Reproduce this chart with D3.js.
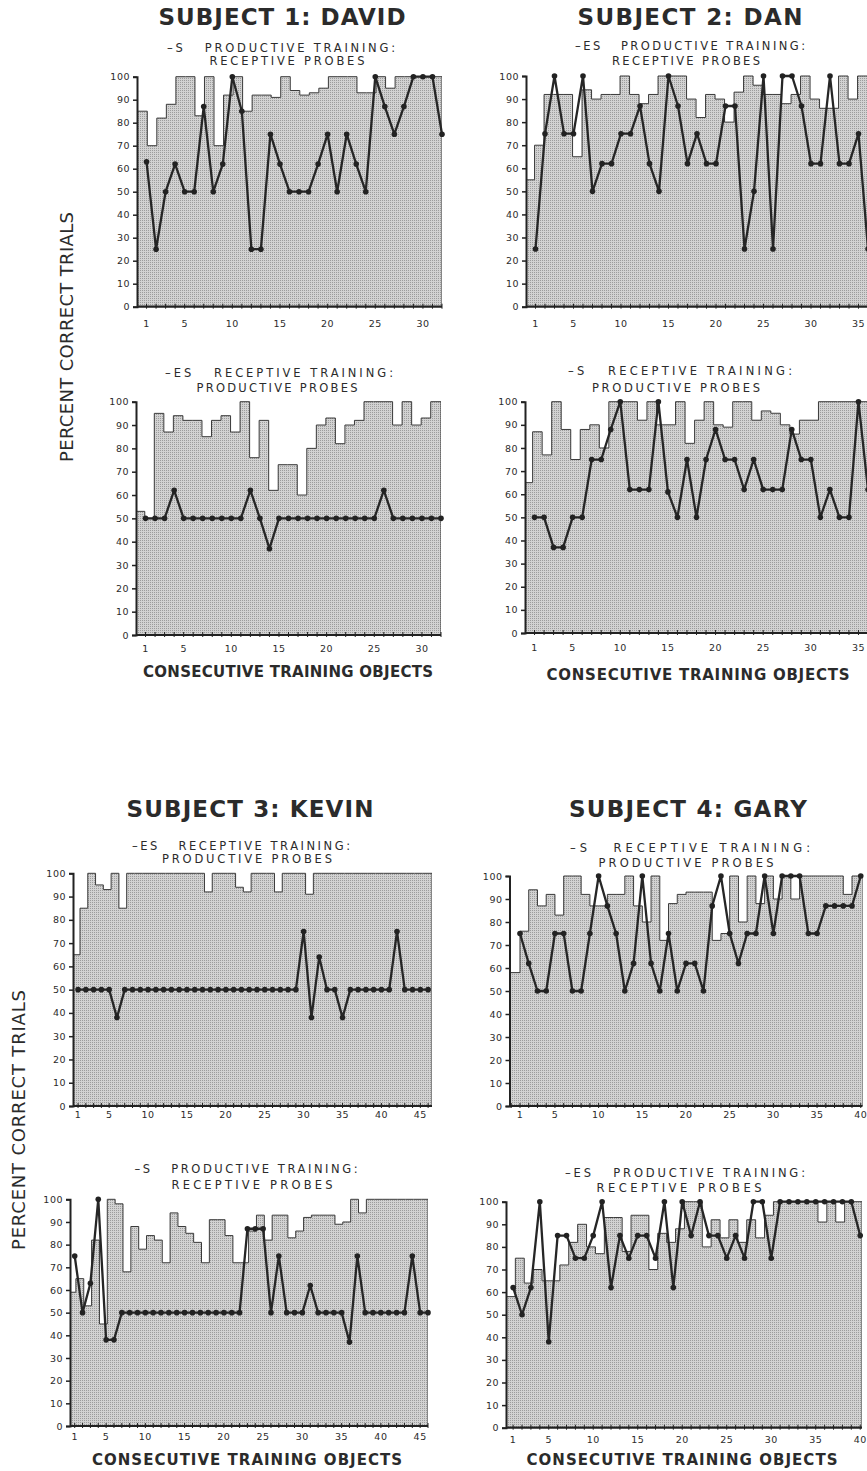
<!DOCTYPE html>
<html>
<head>
<meta charset="utf-8">
<style>
    body { margin: 0; background: #fff; }
    svg { display: block; }
    text { font-family: 'DejaVu Sans', Arial, sans-serif; fill: #2b2b2b; }
    .title { font-size: 23px; font-weight: bold; }
    .sub { font-size: 11.5px; }
    .tk { font-size: 9.5px; letter-spacing: 0.5px; }
    .xlab { font-size: 15px; font-weight: bold; }
    .ylab { font-size: 18px; }
</style>
</head>
<body>
<svg width="867" height="1471"></svg>

<script src="https://d3js.org/d3.v7.min.js"></script>
<script>
    // ---- values (percent correct) ----
    let subjectTitles = ["SUBJECT 1: DAVID", "SUBJECT 2: DAN", "SUBJECT 3: KEVIN", "SUBJECT 4: GARY"];
    let xTitle = "CONSECUTIVE TRAINING OBJECTS";
    let yTitle = "PERCENT CORRECT TRIALS";
    let yTickValues = [0, 10, 20, 30, 40, 50, 60, 70, 80, 90, 100];

    // subject 1, productive training : receptive probes
    let davidA_train = [85, 70, 82, 88, 100, 100, 83, 100, 70, 92, 100, 85, 92, 92, 91, 100, 94, 92, 93, 95, 100, 100, 100, 93, 93, 100, 95, 100, 100, 100, 100, 100];
    let davidA_probe = [63, 25, 50, 62, 50, 50, 87, 50, 62, 100, 85, 25, 25, 75, 62, 50, 50, 50, 62, 75, 50, 75, 62, 50, 100, 87, 75, 87, 100, 100, 100, 75];
    // subject 1, receptive training : productive probes
    let davidB_train = [53, 50, 95, 87, 94, 92, 92, 85, 92, 94, 87, 100, 76, 92, 62, 73, 73, 60, 80, 90, 93, 82, 90, 92, 100, 100, 100, 90, 100, 90, 93, 100];
    let davidB_probe = [50, 50, 50, 62, 50, 50, 50, 50, 50, 50, 50, 62, 50, 37, 50, 50, 50, 50, 50, 50, 50, 50, 50, 50, 50, 62, 50, 50, 50, 50, 50, 50];

    // subject 2
    let danA_train = [55, 70, 92, 92, 92, 65, 94, 90, 92, 92, 100, 92, 88, 92, 100, 100, 100, 90, 82, 92, 90, 80, 93, 100, 96, 92, 92, 88, 92, 100, 90, 86, 86, 100, 90, 100];
    let danA_probe = [25, 75, 100, 75, 75, 100, 50, 62, 62, 75, 75, 87, 62, 50, 100, 87, 62, 75, 62, 62, 87, 87, 25, 50, 100, 25, 100, 100, 87, 62, 62, 100, 62, 62, 75, 25];
    let danB_train = [65, 87, 77, 100, 88, 75, 88, 90, 80, 100, 100, 100, 92, 100, 90, 90, 100, 82, 92, 100, 90, 89, 100, 100, 92, 96, 95, 90, 86, 92, 92, 100, 100, 100, 100, 100];
    let danB_probe = [50, 50, 37, 37, 50, 50, 75, 75, 88, 100, 62, 62, 62, 100, 61, 50, 75, 50, 75, 88, 75, 75, 62, 75, 62, 62, 62, 88, 75, 75, 50, 62, 50, 50, 100, 62];

    // subject 3
    let kevinA_train = [65, 85, 100, 95, 93, 100, 85, 100, 100, 100, 100, 100, 100, 100, 100, 100, 100, 92, 100, 100, 100, 94, 92, 100, 100, 100, 92, 100, 100, 100, 91, 100, 100, 100, 100, 100, 100, 100, 100, 100, 100, 100, 100, 100, 100, 100];
    let kevinA_probe = [50, 50, 50, 50, 50, 38, 50, 50, 50, 50, 50, 50, 50, 50, 50, 50, 50, 50, 50, 50, 50, 50, 50, 50, 50, 50, 50, 50, 50, 75, 38, 64, 50, 50, 38, 50, 50, 50, 50, 50, 50, 75, 50, 50, 50, 50];
    let kevinB_train = [59, 65, 53, 82, 45, 100, 98, 68, 88, 78, 84, 82, 72, 94, 88, 85, 81, 72, 91, 91, 84, 72, 72, 86, 93, 82, 93, 93, 83, 86, 92, 93, 93, 93, 89, 90, 100, 94, 100, 100, 100, 100, 100, 100, 100, 100];
    let kevinB_probe = [75, 50, 63, 100, 38, 38, 50, 50, 50, 50, 50, 50, 50, 50, 50, 50, 50, 50, 50, 50, 50, 50, 87, 87, 87, 50, 75, 50, 50, 50, 62, 50, 50, 50, 50, 37, 75, 50, 50, 50, 50, 50, 50, 75, 50, 50];

    // subject 4
    let garyA_train = [58, 76, 94, 87, 92, 83, 100, 100, 92, 87, 87, 92, 92, 100, 87, 80, 100, 72, 88, 92, 93, 93, 93, 72, 75, 100, 80, 100, 88, 100, 90, 100, 90, 100, 100, 100, 100, 100, 92, 100];
    let garyA_probe = [75, 62, 50, 50, 75, 75, 50, 50, 75, 100, 87, 75, 50, 62, 100, 62, 50, 75, 50, 62, 62, 50, 87, 100, 75, 62, 75, 75, 100, 75, 100, 100, 100, 75, 75, 87, 87, 87, 87, 100];
    let garyB_train = [58, 75, 64, 70, 65, 65, 72, 82, 90, 80, 77, 93, 93, 78, 94, 94, 70, 86, 82, 88, 100, 100, 80, 92, 84, 92, 82, 92, 84, 94, 100, 100, 100, 100, 100, 91, 100, 91, 100, 100];
    let garyB_probe = [62, 50, 62, 100, 38, 85, 85, 75, 75, 85, 100, 62, 85, 75, 85, 85, 75, 100, 62, 100, 85, 100, 85, 85, 75, 85, 75, 100, 100, 75, 100, 100, 100, 100, 100, 100, 100, 100, 100, 85];

    let prodRec = ["PRODUCTIVE TRAINING:", "RECEPTIVE PROBES"];
    let recProd = ["RECEPTIVE TRAINING:", "PRODUCTIVE PROBES"];

    // ---- layout (pixel positions only) ----
    let panels = [
        { train: davidA_train, probe: davidA_probe, mark: "S", lines: prodRec, xd: [0, 32], xr: [137, 442], yr: [306.7, 76.7], shift: 0.08,
          sub: [[281, 52, 228], [287, 65, 155]], tickDy: 20 },
        { train: danA_train, probe: danA_probe, mark: "ES", lines: prodRec, xd: [0, 36], xr: [526, 868], yr: [306.7, 76], shift: -0.1,
          sub: [[690, 50, 230], [686, 65, 148]], tickDy: 20 },
        { train: davidB_train, probe: davidB_probe, mark: "ES", lines: recProd, xd: [0, 32], xr: [136, 441], yr: [635, 401.7], shift: -0.08,
          sub: [[279, 377, 228], [277, 392, 161]], tickDy: 17, xlab: [288, 677, 290] },
        { train: danB_train, probe: danB_probe, mark: "S", lines: recProd, xd: [0, 36], xr: [525, 868], yr: [633, 401.7], shift: -0.2,
          sub: [[680, 375, 224], [676, 392, 168]], tickDy: 18, xlab: [698, 680, 303] },
        { train: kevinA_train, probe: kevinA_probe, mark: "ES", lines: recProd, xd: [0.35, 46.5], xr: [73, 432], yr: [1106, 873.3], shift: 0.25,
          sub: [[241, 850, 218], [247, 863, 170]], tickDy: 12 },
        { train: garyA_train, probe: garyA_probe, mark: "S", lines: recProd, xd: [-0.2, 40.2], xr: [509.5, 862.5], yr: [1106, 876], shift: 0,
          sub: [[690, 852, 240], [686, 867, 175]], tickDy: 12 },
        { train: kevinB_train, probe: kevinB_probe, mark: "S", lines: prodRec, xd: [0.4, 46], xr: [70, 428], yr: [1426, 1199.3], shift: 0.15,
          sub: [[246, 1173, 223], [252, 1189, 161]], tickDy: 14, xlab: [247, 1465, 310] },
        { train: garyB_train, probe: garyB_probe, mark: "ES", lines: prodRec, xd: [0.2, 40.2], xr: [506, 862], yr: [1427.7, 1201.7], shift: 0.25,
          sub: [[685, 1177, 240], [679, 1192, 165]], tickDy: 15.5, xlab: [682, 1465, 311] }
    ];

    let titlePos = [[282, 25, 247], [690, 25, 225], [250, 817, 247], [688, 817, 238]];
    let yTitlePos = [[66, 337, 250], [18, 1120, 260]];

    let svg = d3.select("svg");

    // stippled halftone fill
    let pat = svg.append("defs").append("pattern")
        .attr("id", "stipple")
        .attr("width", 2).attr("height", 2)
        .attr("patternUnits", "userSpaceOnUse");
    pat.append("rect").attr("width", 2).attr("height", 2).attr("fill", "#d2d2d2");
    pat.append("rect").attr("width", 1).attr("height", 1).attr("fill", "#9c9c9c");

    panels.forEach(function (p, idx) {
        let x = d3.scaleLinear().domain(p.xd).range(p.xr);
        let y = d3.scaleLinear().domain([0, 100]).range(p.yr);
        let g = svg.append("g").attr("class", "panel");

        let clipId = "clip" + idx;
        g.append("clipPath").attr("id", clipId)
            .append("rect")
            .attr("x", p.xr[0]).attr("y", p.yr[1] - 6)
            .attr("width", p.xr[1] - p.xr[0]).attr("height", p.yr[0] - p.yr[1] + 6);

        // training step curve
        let steps = p.train.map((v, i) => ({ x: i === 0 ? p.xd[0] : i + p.shift, v: v }));
        steps.push({ x: p.xd[1], v: p.train[p.train.length - 1] });

        let area = d3.area()
            .curve(d3.curveStepAfter)
            .x(d => x(d.x))
            .y0(y(0))
            .y1(d => y(d.v));

        g.append("path")
            .attr("clip-path", `url(#${clipId})`)
            .attr("d", area(steps))
            .attr("fill", "url(#stipple)")
            .attr("stroke", "#3a3a3a")
            .attr("stroke-width", 1);

        // probe line
        let pts = p.probe.map((v, i) => ({ x: i + 1, v: v }));
        let line = d3.line().x(d => x(d.x)).y(d => y(d.v));
        g.append("path")
            .attr("d", line(pts))
            .attr("fill", "none")
            .attr("stroke", "#262626")
            .attr("stroke-width", 2.3)
            .attr("stroke-linejoin", "round");
        g.selectAll("circle")
            .data(pts)
            .join("circle")
            .attr("cx", d => x(d.x))
            .attr("cy", d => y(d.v))
            .attr("r", 2.8)
            .attr("fill", "#222");

        // left axis
        let yAxis = d3.axisLeft(y).tickValues(yTickValues).tickSize(4).tickPadding(3);
        g.append("g")
            .attr("transform", `translate(${p.xr[0]},0)`)
            .call(yAxis)
            .call(a => a.select(".domain").attr("stroke", "#222").attr("stroke-width", 2))
            .call(a => a.selectAll(".tick line").attr("stroke", "#222").attr("stroke-width", 1.5))
            .call(a => a.selectAll(".tick text").attr("class", "tk").attr("fill", "#2b2b2b").attr("font-size", null).attr("font-family", null));

        // bottom axis with a tick at every object
        let allTicks = d3.range(Math.ceil(p.xd[0]), Math.floor(p.xd[1]) + 1).filter(v => v > p.xd[0]);
        g.append("line")
            .attr("x1", p.xr[0]).attr("x2", p.xr[1])
            .attr("y1", p.yr[0]).attr("y2", p.yr[0])
            .attr("stroke", "#222").attr("stroke-width", 2.2);
        g.selectAll(".xt")
            .data(allTicks)
            .join("line")
            .attr("class", "xt")
            .attr("x1", d => x(d)).attr("x2", d => x(d))
            .attr("y1", p.yr[0] - 3).attr("y2", p.yr[0] + 2)
            .attr("stroke", "#222").attr("stroke-width", 1);

        let labTicks = [1].concat(d3.range(5, Math.floor(p.xd[1]) + 1, 5));
        g.selectAll(".xl")
            .data(labTicks)
            .join("text")
            .attr("class", "xl tk")
            .attr("x", d => x(d))
            .attr("y", p.yr[0] + p.tickDy)
            .attr("text-anchor", "middle")
            .text(d => d);

        // panel caption
        let sub = [("\u2013" + p.mark + "   " + p.lines[0]), p.lines[1]];
        sub.forEach(function (t, j) {
            g.append("text")
                .attr("class", "sub")
                .attr("x", p.sub[j][0])
                .attr("y", p.sub[j][1])
                .attr("text-anchor", "middle")
                .attr("textLength", p.sub[j][2])
                .attr("lengthAdjust", "spacing")
                .style("white-space", "pre")
                .text(t);
        });

        if (p.xlab) {
            g.append("text")
                .attr("class", "xlab")
                .attr("x", p.xlab[0])
                .attr("y", p.xlab[1])
                .attr("text-anchor", "middle")
                .attr("textLength", p.xlab[2])
                .attr("lengthAdjust", "spacing")
                .text(xTitle);
        }
    });

    subjectTitles.forEach(function (t, i) {
        svg.append("text")
            .attr("class", "title")
            .attr("x", titlePos[i][0])
            .attr("y", titlePos[i][1])
            .attr("text-anchor", "middle")
            .attr("textLength", titlePos[i][2])
            .attr("lengthAdjust", "spacing")
            .text(t);
    });

    yTitlePos.forEach(function (p) {
        svg.append("text")
            .attr("class", "ylab")
            .attr("transform", `translate(${p[0] + 7},${p[1]}) rotate(-90)`)
            .attr("text-anchor", "middle")
            .attr("textLength", p[2])
            .attr("lengthAdjust", "spacing")
            .text(yTitle);
    });
</script>
</body>
</html>
